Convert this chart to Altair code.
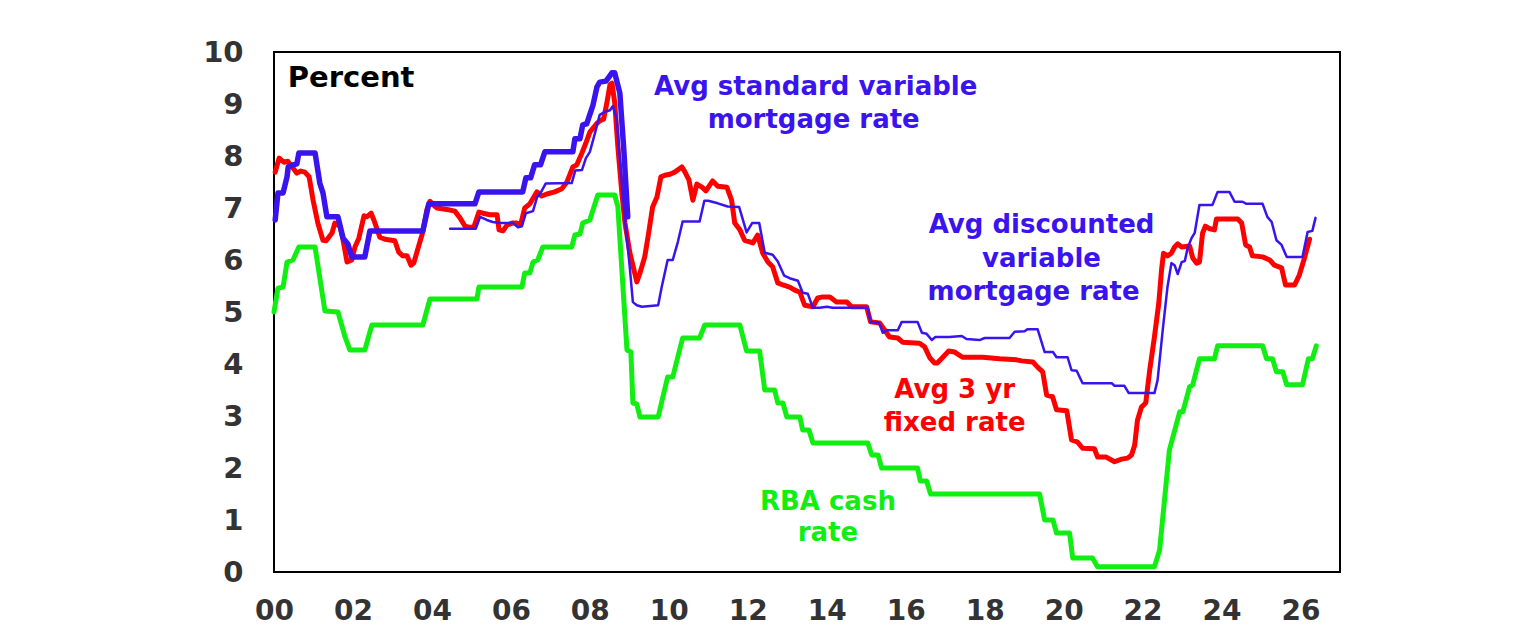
import altair as alt
import pandas as pd

# RBA cash rate (year, %)
cash = [(2000.0, 5.0), (2000.1, 5.46), (2000.23, 5.48), (2000.33, 5.96), (2000.48, 6.0), (2000.63, 6.25),
        (2001.04, 6.25), (2001.29, 5.02), (2001.62, 5.0), (2001.8, 4.52), (2001.92, 4.27), (2002.3, 4.27),
        (2002.48, 4.75), (2003.77, 4.75), (2003.95, 5.25), (2005.14, 5.25), (2005.19, 5.48), (2006.28, 5.48),
        (2006.35, 5.75), (2006.48, 5.75), (2006.56, 5.96), (2006.68, 6.0), (2006.81, 6.25), (2007.54, 6.25),
        (2007.62, 6.48), (2007.75, 6.5), (2007.82, 6.71), (2008.0, 6.77), (2008.2, 7.25), (2008.63, 7.25),
        (2008.71, 7.02), (2008.94, 4.27), (2009.04, 4.23), (2009.09, 3.25), (2009.19, 3.23), (2009.27, 2.98),
        (2009.73, 2.98), (2009.97, 3.75), (2010.1, 3.75), (2010.35, 4.5), (2010.78, 4.5), (2010.91, 4.75),
        (2011.8, 4.75), (2011.97, 4.25), (2012.3, 4.25), (2012.43, 3.5), (2012.68, 3.5), (2012.76, 3.25),
        (2012.89, 3.25), (2012.99, 2.98), (2013.32, 2.98), (2013.39, 2.73), (2013.55, 2.73), (2013.65, 2.48),
        (2015.04, 2.48), (2015.14, 2.25), (2015.3, 2.25), (2015.39, 2.0), (2016.3, 2.0), (2016.37, 1.75),
        (2016.53, 1.75), (2016.63, 1.5), (2019.39, 1.5), (2019.52, 1.0), (2019.73, 1.0), (2019.82, 0.75),
        (2020.15, 0.75), (2020.23, 0.27), (2020.73, 0.27), (2020.86, 0.1), (2022.3, 0.1), (2022.43, 0.42),
        (2022.68, 2.35), (2022.94, 3.08), (2023.02, 3.08), (2023.19, 3.56), (2023.27, 3.6), (2023.44, 4.1),
        (2023.82, 4.1), (2023.9, 4.35), (2025.04, 4.35), (2025.14, 4.1), (2025.29, 4.1), (2025.39, 3.85),
        (2025.55, 3.85), (2025.65, 3.6), (2026.05, 3.6), (2026.2, 4.1), (2026.3, 4.1), (2026.4, 4.35)]

# Avg 3 yr fixed rate
fixed = [(2000.03, 7.69), (2000.13, 7.96), (2000.25, 7.88), (2000.35, 7.9), (2000.48, 7.77), (2000.58, 7.67),
         (2000.68, 7.71), (2000.78, 7.69), (2000.89, 7.6), (2000.99, 7.15), (2001.11, 6.71), (2001.24, 6.38),
         (2001.32, 6.37), (2001.47, 6.52), (2001.54, 6.71), (2001.67, 6.65), (2001.75, 6.38), (2001.85, 5.96),
         (2001.97, 6.0), (2002.05, 6.25), (2002.15, 6.42), (2002.28, 6.85), (2002.35, 6.83), (2002.46, 6.9),
         (2002.53, 6.77), (2002.68, 6.44), (2002.81, 6.4), (2003.06, 6.37), (2003.16, 6.15), (2003.26, 6.08),
         (2003.37, 6.08), (2003.47, 5.9), (2003.54, 5.94), (2003.65, 6.23), (2003.77, 6.54), (2003.87, 6.96),
         (2003.95, 7.13), (2004.03, 7.06), (2004.13, 7.0), (2004.46, 6.96), (2004.58, 6.94), (2004.71, 6.81),
         (2004.84, 6.65), (2004.94, 6.63), (2005.06, 6.63), (2005.19, 6.92), (2005.29, 6.9), (2005.47, 6.87),
         (2005.65, 6.87), (2005.7, 6.58), (2005.8, 6.56), (2005.9, 6.67), (2006.03, 6.71), (2006.15, 6.71),
         (2006.25, 6.69), (2006.35, 7.0), (2006.48, 7.08), (2006.66, 7.31), (2006.78, 7.23), (2006.91, 7.27),
         (2007.11, 7.31), (2007.29, 7.37), (2007.42, 7.5), (2007.57, 7.79), (2007.67, 7.83), (2007.8, 8.06),
         (2007.9, 8.25), (2008.0, 8.46), (2008.18, 8.63), (2008.28, 8.69), (2008.35, 8.71), (2008.43, 9.02),
         (2008.51, 9.37), (2008.56, 9.4), (2008.63, 9.02), (2008.71, 8.17), (2008.81, 7.29), (2008.89, 6.71),
         (2009.01, 6.15), (2009.19, 5.58), (2009.27, 5.75), (2009.39, 6.06), (2009.49, 6.52), (2009.59, 7.02),
         (2009.7, 7.21), (2009.8, 7.6), (2009.9, 7.63), (2010.03, 7.65), (2010.15, 7.69), (2010.33, 7.79),
         (2010.41, 7.69), (2010.51, 7.54), (2010.61, 7.15), (2010.71, 7.46), (2010.84, 7.4), (2010.94, 7.33),
         (2011.11, 7.52), (2011.24, 7.42), (2011.47, 7.4), (2011.59, 7.15), (2011.67, 6.71), (2011.8, 6.58),
         (2011.92, 6.38), (2012.13, 6.33), (2012.25, 6.48), (2012.38, 6.13), (2012.51, 5.96), (2012.63, 5.87),
         (2012.76, 5.56), (2012.89, 5.52), (2013.06, 5.48), (2013.19, 5.42), (2013.32, 5.38), (2013.44, 5.13),
         (2013.65, 5.1), (2013.77, 5.27), (2013.9, 5.29), (2014.08, 5.29), (2014.25, 5.19), (2014.51, 5.19),
         (2014.63, 5.1), (2015.01, 5.1), (2015.11, 4.81), (2015.34, 4.79), (2015.47, 4.65), (2015.59, 4.52),
         (2015.8, 4.5), (2015.92, 4.42), (2016.35, 4.4), (2016.48, 4.33), (2016.61, 4.12), (2016.73, 4.02),
         (2016.8, 4.02), (2016.94, 4.13), (2017.09, 4.25), (2017.24, 4.23), (2017.44, 4.13), (2017.95, 4.13),
         (2018.38, 4.1), (2018.81, 4.08), (2018.94, 4.06), (2019.22, 4.04), (2019.34, 3.94), (2019.47, 3.85),
         (2019.57, 3.4), (2019.72, 3.37), (2019.82, 3.12), (2020.08, 3.1), (2020.2, 2.54), (2020.35, 2.5),
         (2020.48, 2.38), (2020.78, 2.37), (2020.86, 2.21), (2021.08, 2.21), (2021.29, 2.12), (2021.47, 2.17),
         (2021.62, 2.19), (2021.72, 2.25), (2021.8, 2.44), (2021.87, 2.92), (2021.97, 3.17), (2022.08, 3.25),
         (2022.18, 3.88), (2022.3, 4.52), (2022.41, 5.17), (2022.48, 5.81), (2022.53, 6.13), (2022.63, 6.08),
         (2022.73, 6.13), (2022.81, 6.25), (2022.89, 6.31), (2022.99, 6.25), (2023.19, 6.27), (2023.27, 6.04),
         (2023.37, 5.94), (2023.44, 5.96), (2023.52, 6.52), (2023.59, 6.65), (2023.7, 6.6), (2023.82, 6.58),
         (2023.87, 6.79), (2024.41, 6.79), (2024.51, 6.71), (2024.61, 6.29), (2024.71, 6.25), (2024.78, 6.08),
         (2025.04, 6.06), (2025.22, 6.0), (2025.34, 5.9), (2025.52, 5.85), (2025.62, 5.52), (2025.85, 5.52),
         (2025.97, 5.71), (2026.1, 6.04), (2026.23, 6.4)]

# Avg standard variable mortgage rate
standard = [(2000.03, 6.77), (2000.1, 7.29), (2000.23, 7.29), (2000.33, 7.6), (2000.36, 7.79), (2000.48, 7.83),
            (2000.58, 7.85), (2000.63, 8.06), (2001.04, 8.06), (2001.16, 7.48), (2001.24, 7.29), (2001.34, 6.83),
            (2001.62, 6.83), (2001.75, 6.42), (2001.87, 6.31), (2001.97, 6.06), (2002.3, 6.06), (2002.43, 6.56),
            (2003.77, 6.56), (2003.92, 7.08), (2005.09, 7.08), (2005.19, 7.31), (2006.3, 7.31), (2006.38, 7.58),
            (2006.5, 7.58), (2006.6, 7.83), (2006.75, 7.83), (2006.86, 8.08), (2007.57, 8.08), (2007.62, 8.33),
            (2007.75, 8.33), (2007.82, 8.6), (2007.92, 8.62), (2008.08, 8.98), (2008.18, 9.33), (2008.25, 9.42),
            (2008.41, 9.44), (2008.56, 9.6), (2008.63, 9.6), (2008.76, 9.21), (2008.86, 8.12), (2008.96, 6.83)]

# Avg discounted variable mortgage rate
discounted = [(2004.46, 6.6), (2005.11, 6.6), (2005.22, 6.83), (2005.39, 6.77), (2005.54, 6.73), (2005.72, 6.71),
              (2006.05, 6.71), (2006.18, 6.63), (2006.28, 6.65), (2006.38, 6.9), (2006.56, 6.94), (2006.66, 7.2),
              (2006.76, 7.3), (2006.88, 7.47), (2007.54, 7.48), (2007.63, 7.72), (2007.8, 7.73), (2007.9, 7.96),
              (2008.0, 8.08), (2008.13, 8.44), (2008.25, 8.79), (2008.38, 8.85), (2008.51, 8.88), (2008.58, 8.96),
              (2008.68, 8.73), (2008.76, 7.92), (2008.89, 6.77), (2009.01, 5.87), (2009.09, 5.19), (2009.19, 5.13),
              (2009.32, 5.1), (2009.73, 5.13), (2009.82, 5.48), (2009.97, 6.0), (2010.1, 6.0), (2010.23, 6.35),
              (2010.35, 6.74), (2010.78, 6.74), (2010.9, 7.14), (2011.0, 7.14), (2011.24, 7.09), (2011.49, 7.03),
              (2011.78, 7.02), (2011.97, 6.53), (2012.11, 6.71), (2012.29, 6.71), (2012.43, 6.14), (2012.63, 6.1),
              (2012.76, 5.97), (2012.92, 5.7), (2013.06, 5.65), (2013.27, 5.6), (2013.39, 5.37), (2013.52, 5.35),
              (2013.65, 5.08), (2013.82, 5.08), (2014.0, 5.1), (2014.15, 5.08), (2015.04, 5.08), (2015.11, 4.81),
              (2015.32, 4.8), (2015.42, 4.6), (2015.52, 4.65), (2015.8, 4.65), (2015.9, 4.81), (2016.3, 4.81),
              (2016.41, 4.6), (2016.53, 4.58), (2016.66, 4.46), (2016.75, 4.52), (2017.11, 4.52), (2017.42, 4.54),
              (2017.54, 4.48), (2017.87, 4.46), (2018.0, 4.5), (2018.63, 4.5), (2018.76, 4.62), (2019.01, 4.63),
              (2019.09, 4.67), (2019.34, 4.67), (2019.52, 4.23), (2019.73, 4.23), (2019.82, 4.13), (2020.1, 4.13),
              (2020.2, 3.88), (2020.33, 3.87), (2020.48, 3.63), (2021.22, 3.63), (2021.29, 3.58), (2021.54, 3.58),
              (2021.65, 3.44), (2022.3, 3.44), (2022.38, 3.69), (2022.51, 4.65), (2022.63, 5.48), (2022.73, 5.94),
              (2022.81, 5.9), (2022.89, 5.73), (2022.99, 5.96), (2023.07, 5.98), (2023.14, 6.23), (2023.24, 6.42),
              (2023.32, 6.52), (2023.44, 7.06), (2023.77, 7.06), (2023.9, 7.31), (2024.2, 7.31), (2024.33, 7.12),
              (2024.53, 7.12), (2024.63, 7.08), (2025.04, 7.08), (2025.16, 6.83), (2025.27, 6.73), (2025.39, 6.38),
              (2025.52, 6.29), (2025.65, 6.06), (2026.05, 6.06), (2026.18, 6.54), (2026.3, 6.56), (2026.38, 6.81)]

x_ticks = list(range(2000, 2027, 2))
y_ticks = list(range(0, 11))

# Series labels: text, x (year), y (%), colour
label_text = ["Avg standard variable", "mortgage rate", "Avg discounted", "variable", "mortgage rate",
              "Avg 3 yr", "fixed rate", "RBA cash", "rate"]
label_x = [2013.72, 2013.67, 2019.44, 2019.44, 2019.24, 2017.24, 2017.24, 2014.03, 2014.03]
label_y = [9.33, 8.69, 6.67, 6.02, 5.38, 3.5, 2.87, 1.35, 0.75]
label_color = ["#3a14ee"] * 5 + ["#ff0000"] * 2 + ["#11ee11"] * 2

BLUE = "#3a14ee"
RED = "#ff0000"
GREEN = "#11ee11"
FONT = "DejaVu Sans"

xenc = alt.X("year:Q", scale=alt.Scale(domain=[2000, 2027], nice=False, zero=False),
             axis=alt.Axis(values=x_ticks, labelExpr="substring(toString(datum.value), 2)", title=None,
                           grid=False, ticks=False, domain=False, labelPadding=25, labelFontSize=28,
                           labelFont=FONT, labelFontWeight="bold", labelColor="#333333",
                           labelFlush=False, labelOverlap=False))
yenc = alt.Y("value:Q", scale=alt.Scale(domain=[0, 10], nice=False),
             axis=alt.Axis(values=y_ticks, title=None, grid=False, ticks=False, domain=False,
                           labelPadding=31, labelFontSize=29, labelFont=FONT, labelFontWeight="bold",
                           labelColor="#333333", labelOverlap=False))


def df(pairs):
    return pd.DataFrame(pairs, columns=["year", "value"])


def line(pairs, color, width):
    return alt.Chart(df(pairs)).mark_line(color=color, strokeWidth=width, strokeJoin="round",
                                          strokeCap="round").encode(x=xenc, y=yenc, order="year:Q")


labels_df = pd.DataFrame({"text": label_text, "year": label_x, "value": label_y, "color": label_color})
labels = alt.Chart(labels_df).mark_text(font=FONT, fontWeight="bold", fontSize=26, align="center",
                                        baseline="middle").encode(
    x=xenc, y=yenc, text="text:N", color=alt.Color("color:N", scale=None))

percent = alt.Chart(pd.DataFrame({"text": ["Percent"], "year": [2000.35], "value": [9.5]})).mark_text(
    font=FONT, fontWeight="bold", fontSize=29, align="left", baseline="middle", color="black").encode(
    x=xenc, y=yenc, text="text:N")

chart = alt.layer(
    line(cash, GREEN, 5),
    line(fixed, RED, 5),
    line(discounted, BLUE, 2.5),
    line(standard, BLUE, 5.5),
    labels,
    percent,
).properties(
    width=1066, height=520,
    padding={"left": 266, "top": 44, "right": 150, "bottom": 54},
    autosize=alt.AutoSizeParams(type="none"),
    background="white",
).configure_view(stroke="black", strokeWidth=2)

chart.save("out.html", embed_options={"renderer": "svg", "actions": False})
